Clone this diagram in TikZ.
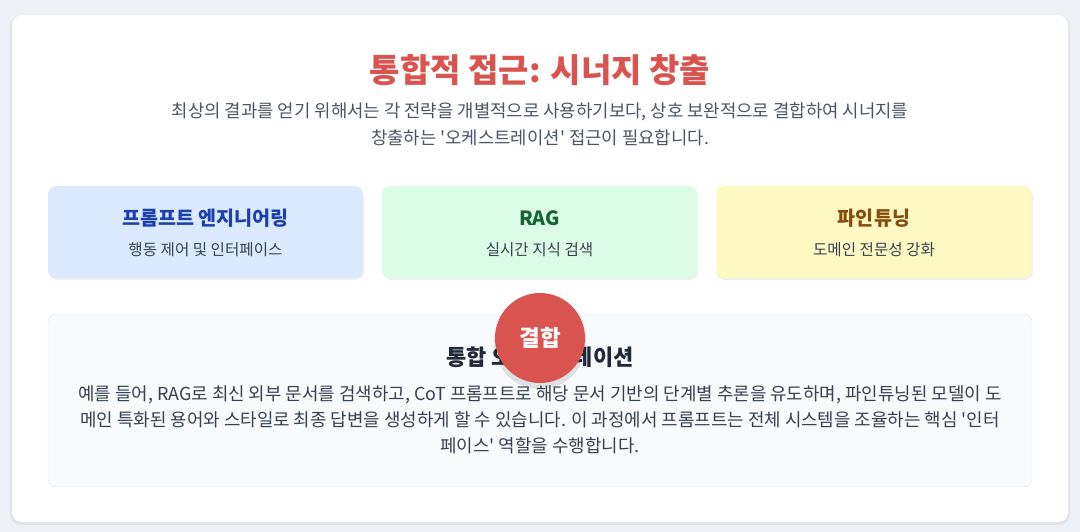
\documentclass[tikz,border=0pt]{standalone}
\usepackage{fontspec}
\setmainfont{Noto Sans CJK KR}
\usetikzlibrary{positioning}
\definecolor{pagebg}{HTML}{EEF2F6}
\definecolor{titlered}{HTML}{D9534F}
\definecolor{subgray}{HTML}{4B5563}
\definecolor{bodygray}{HTML}{374151}
\definecolor{darktext}{HTML}{1F2937}
\definecolor{peblue}{HTML}{DBEAFE}
\definecolor{pebluetext}{HTML}{1E40AF}
\definecolor{raggreen}{HTML}{DCFCE7}
\definecolor{raggreentext}{HTML}{166534}
\definecolor{ftyellow}{HTML}{FEF9C3}
\definecolor{ftyellowtext}{HTML}{854D0E}
\definecolor{combinebg}{HTML}{F8FAFC}
\definecolor{combineline}{HTML}{E2E8F0}
\tikzset{
  strategy/.style={rounded corners=8pt, minimum width=315pt, minimum height=92pt, inner sep=0pt},
  strategytitle/.style={font=\bfseries\fontsize{19.6}{23}\selectfont},
  strategysub/.style={font=\fontsize{15.6}{18}\selectfont, text=bodygray},
  boxshadow/.style={fill=black, opacity=0.06, rounded corners=8pt}
}
\begin{document}
\begin{tikzpicture}[x=1pt,y=-1pt]
  \useasboundingbox (0,0) rectangle (1080,532);
  % page and card
  \fill[pagebg] (0,0) rectangle (1080,532);
  \fill[black, opacity=0.05, rounded corners=10pt] (10,15) rectangle (1070,525);
  \fill[white, rounded corners=10pt] (12,15) rectangle (1068,522);

  % heading
  \node[text=titlered, font=\bfseries\fontsize{33}{38}\selectfont] (title) at (540,70) {통합적 접근: 시너지 창출};
  \node[text=subgray, font=\fontsize{17.8}{27}\selectfont, align=center] (lead) at (540,124.5)
    {최상의 결과를 얻기 위해서는 각 전략을 개별적으로 사용하기보다, 상호 보완적으로 결합하여 시너지를\\
     창출하는 \textquotesingle 오케스트레이션\textquotesingle{} 접근이 필요합니다.};

  % three strategies
  \fill[boxshadow] (49,189) rectangle (364,280);
  \fill[boxshadow] (383,189) rectangle (698,280);
  \fill[boxshadow] (717,189) rectangle (1033,280);
  \node[strategy, fill=peblue] (pe) at (205.5,232) {};
  \node[strategy, fill=raggreen] (rag) at (539.5,232) {};
  \node[strategy, fill=ftyellow] (ft) at (874,232) {};
  \node[strategytitle, text=pebluetext] (pe-t) at ([yshift=14pt]pe.center) {프롬프트 엔지니어링};
  \node[strategysub] (pe-s) at ([yshift=-18pt]pe.center) {행동 제어 및 인터페이스};
  \node[strategytitle, text=raggreentext] (rag-t) at ([yshift=14pt]rag.center) {RAG};
  \node[strategysub] (rag-s) at ([yshift=-18pt]rag.center) {실시간 지식 검색};
  \node[strategytitle, text=ftyellowtext] (ft-t) at ([yshift=14pt]ft.center) {파인튜닝};
  \node[strategysub] (ft-s) at ([yshift=-18pt]ft.center) {도메인 전문성 강화};

  % combined orchestration
  \node[draw=combineline, fill=combinebg, rounded corners=8pt, minimum width=984pt, minimum height=173pt] (orch) at (540,400.5) {};
  \node[text=darktext, font=\bfseries\fontsize{22}{26}\selectfont] (orch-t) at (540,357) {통합 오케스트레이션};
  \node[text=bodygray, font=\fontsize{17.9}{26}\selectfont, align=center] (orch-b) at (540,420)
    {예를 들어, RAG로 최신 외부 문서를 검색하고, CoT 프롬프트로 해당 문서 기반의 단계별 추론을 유도하며, 파인튜닝된 모델이 도\\
     메인 특화된 용어와 스타일로 최종 답변을 생성하게 할 수 있습니다. 이 과정에서 프롬프트는 전체 시스템을 조율하는 핵심 \textquotesingle 인터\\
     페이스\textquotesingle{} 역할을 수행합니다.};

  % badge
  \fill[black, opacity=0.10] (540,343) circle (46);
  \node[circle, fill=titlered, minimum size=90pt, inner sep=0pt, text=white, font=\bfseries\fontsize{22.5}{26}\selectfont] (merge) at (540,338) {결합};
\end{tikzpicture}
\end{document}
